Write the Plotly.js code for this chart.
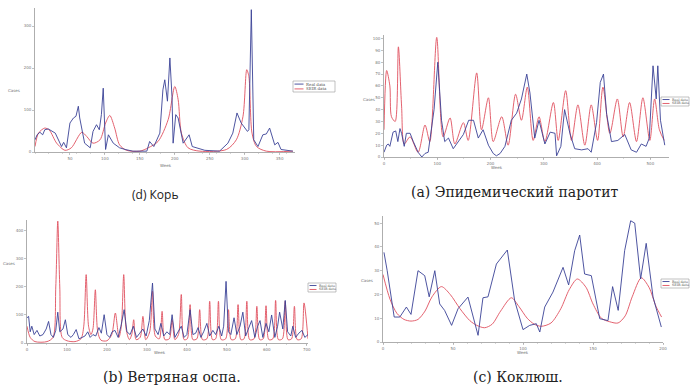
<!DOCTYPE html>
<html><head><meta charset="utf-8">
<script src="https://cdn.plot.ly/plotly-3.0.1.min.js"></script>
<style>html,body{margin:0;padding:0;background:#fff}#c{width:690px;height:385px}</style>
</head><body><div id="c"></div><script>
// Panel (d) Корь
const dRealX = [0,3,7,11,14,19,29,38,41,45,50,55,58.6,62,64,71,79,83,88,92,95,97.6,101,105,112,121,129,140,160,164,170,178.6,183,185.7,189.5,193,196,197.6,201.4,204.8,212,220.5,225,231,243,264,276,283,289,295,304,306,309.5,313,319,326,331,335.7,339.5,343,347.6,352,369];
const dRealY = [29,41,47,41,53,55,45,13,23,10,69,81,85,109,81,21,10,49,65,53,89,152,6,41,21,10,6,2,2,25,13,45,148,172,121,224,132,21,89,81,21,41,13,10,4,2,21,45,93,69,49,53,339,29,13,41,43,57,37,17,23,6,2];
const dSeirX = [0,5,14,20.5,31,43,52,67,74,83,93,101,107,114,121,131,150,162,176,190.5,200,204.8,209.5,219,236,274,288,297.6,303,306,310.5,317,331,369];
const dSeirY = [13,45,57,52,21,4,10,47,37,21,29,69,87,57,17,4,2,10,25,77,156,125,45,10,2,6,29,85,196,180,45,13,2,2];

// Panel (a) Эпидемический паротит
const aSeirX = [0,5,11,14,21,27,33,38,49,64,77,86,99,111,124,133,149,158,174,183,196,205,221,233,247,258,269,280,291,302,318,327,341,352,364,377,389,401,411,424,438,449,461,474,486,499,508,517,526];
const aSeirY = [23,73,60,34,30,93,43,11,17,4,27,13,101,17,33,11,29,14,71,23,50,13,34,10,53,31,59,14,34,13,46,14,56,14,44,10,44,14,59,20,49,17,46,13,50,14,49,23,14];
const aRealX = [0,5,8,11,17,22,26,30,33,38,42,49,55,64,71,77,83,89,94,101,108,114,121,130,139,149,159,168,177,186,196,205,211,218,227,239,249,258,268,274,283,291,302,312,321,324,332,339,349,358,371,383,389,399,406,412,418,427,439,452,464,474,483,492,498,505,511,514,519,527];
const aRealY = [4,10,11,9,21,22,13,24,20,9,20,20,13,4,0,3,4,23,40,80,31,13,16,7,13,19,31,31,16,23,10,3,1,3,9,31,37,49,70,54,16,31,11,21,20,1,9,40,20,7,6,7,4,29,63,70,36,13,14,19,6,4,11,9,16,77,49,77,31,10];

// Panel (b) Ветряная оспа
const bSeirX = [0,8,20,50,65,72,77,82,88,100,120,135,142,148,154,160,165,171,177,185,200,212,221,230,236,242,248,256,262,267,273,283,290,297,307,314,321,331,338,345,356,363,370,379,386,393,401,408,415,425,432,439,450,457,464,472,479,486,497,504,511,521,528,535,543,550,557,568,575,582,591,598,605,615,622,629,639,646,653,662,669,676,686,693,703];
const bSeirY = [60,20,5,5,20,200,435,200,20,8,5,15,60,244,60,30,50,190,40,10,8,30,107,20,60,244,50,12,30,83,12,20,95,12,40,185,25,15,113,12,15,83,12,30,173,12,15,137,12,15,119,12,15,149,12,15,149,12,15,119,12,15,137,12,15,149,12,15,131,12,15,133,12,15,152,12,15,149,12,15,131,12,15,143,15];
const bRealX = [0,4,8,12,18,25,32,40,48,54,60,66,72,77,82,90,96,102,110,116,123,130,138,145,152,158,165,172,180,186,193,200,207,213,220,228,235,243,250,258,266,274,282,290,298,306,314,320,328,335,342,350,357,363,370,378,386,393,400,408,415,422,428,435,442,450,457,465,472,480,487,492,498,504,510,518,525,533,540,547,555,562,570,577,583,590,598,605,612,620,627,632,640,646,652,660,665,672,680,688,695,703];
const bRealY = [90,95,40,60,30,45,25,30,50,77,30,20,45,110,40,50,83,30,20,30,48,15,20,25,40,20,30,25,55,35,101,30,20,40,45,20,60,119,40,30,60,20,35,50,25,80,214,50,30,70,25,40,30,101,20,40,60,20,30,119,30,35,55,20,40,70,25,45,30,60,25,60,220,40,30,90,30,60,110,25,55,80,20,60,80,20,70,40,100,20,60,110,50,152,40,25,60,20,35,45,20,30];

// Panel (c) Коклюш
const cRealX = [0.7,3,8,12,16.7,20,25,29.8,33,37,40.5,44,49,53.6,60.7,67.9,71.4,75,81,88.8,94,100,104.8,109.5,112,115.5,121.4,128.6,132.6,136.9,140.5,144,148.8,154.8,160.7,164,168,172.6,176.9,179.8,184,188,192.9,198.8];
const cRealY = [37.7,30,10.5,10.5,14.7,11.6,30,27.9,19,30,16,13.3,7,14,18.9,2.8,18.6,19,32.8,38.7,17.5,5.2,7,7.7,4.2,14.7,21,31.4,24,38.4,45,28.6,27.9,9.8,9,23.3,13.3,38.4,51,50,26.5,41.5,18.9,6.3];
const cSeirX = [0,5,10,15,20,25,30,35,41.7,48,55,62,67,72.6,78,84,91.7,97,103,108,113,120,127,133,138.8,145,150,156,162,167.9,173,178,184.5,190,195,199];
const cSeirY = [28.4,18,12,9.5,8.8,9.5,13,19,23.3,20,14,9,7,6,7.5,13,18.6,15,10,7.5,6.6,8,14,22,26.5,23,16,10,8.5,8,11,19,27,23,15,10.5];

const names = ["Real data", "SEIR data"];
const blue = "#3a4296", red = "#e0505f";

function tr(x, y, ax, i, color, shape) {
  return {x: x, y: y, xaxis: "x" + ax, yaxis: "y" + ax, type: "scatter", mode: "lines",
    line: {color: color, width: 0.9, shape: shape, smoothing: 0.8},
    name: names[i], showlegend: false, hoverinfo: "none"};
}
const data = [
  tr(dSeirX, dSeirY, "", 1, red, "spline"),
  tr(dRealX, dRealY, "", 0, blue, "linear"),
  tr(aSeirX, aSeirY, "2", 1, red, "spline"),
  tr(aRealX, aRealY, "2", 0, blue, "linear"),
  tr(bSeirX, bSeirY, "3", 1, red, "spline"),
  tr(bRealX, bRealY, "3", 0, blue, "linear"),
  tr(cSeirX, cSeirY, "4", 1, red, "spline"),
  tr(cRealX, cRealY, "4", 0, blue, "linear")
];
data[0].xaxis = data[1].xaxis = "x"; data[0].yaxis = data[1].yaxis = "y";

const W = 690, H = 385;
const px = v => v / W, py = v => 1 - v / H;
const tf = {size: 4, color: "#777", family: "DejaVu Sans"};
function xax(dom, range, tv, anchor) {
  return {domain: dom, range: range, anchor: anchor, tickvals: tv, ticktext: tv.map(String),
    showgrid: false, zeroline: false, showline: true, linecolor: "#9a9a9a", linewidth: 0.8,
    ticks: "outside", ticklen: 2, tickwidth: 0.6, tickcolor: "#9a9a9a",
    minor: {ticks: "outside", ticklen: 1, nticks: 5, tickcolor: "#bbb"},
    tickfont: tf, fixedrange: true};
}
function yax(dom, range, tv, anchor) {
  return {domain: dom, range: range, anchor: anchor, tickvals: tv, ticktext: tv.map(String),
    showgrid: false, zeroline: false, showline: true, linecolor: "#9a9a9a", linewidth: 0.8,
    ticks: "outside", ticklen: 2, tickwidth: 0.6, tickcolor: "#9a9a9a",
    tickfont: tf, fixedrange: true};
}
const small = {size: 4, color: "#777", family: "DejaVu Sans"};
function ann(text, x, y, font, xa) {
  return {text: text, x: px(x), y: py(y), xref: "paper", yref: "paper", showarrow: false,
    xanchor: xa || "center", yanchor: "middle", font: font};
}
const shapes = [], anns = [];
// hand-made compact legends (Plotly legends cannot be made this small)
function legendBox(x0, y0, w, h, fs, lw) {
  shapes.push({type: "rect", xref: "paper", yref: "paper", x0: px(x0), x1: px(x0 + w), y0: py(y0 + h), y1: py(y0),
    line: {color: "#999", width: 0.6}, fillcolor: "#fff"});
  const cols = [blue, red];
  for (let i = 0; i < 2; i++) {
    const yy = y0 + h * (0.28 + 0.44 * i);
    shapes.push({type: "line", xref: "paper", yref: "paper", x0: px(x0 + 1.5), x1: px(x0 + 1.5 + lw), y0: py(yy), y1: py(yy),
      line: {color: cols[i], width: 0.9}});
    anns.push(ann(names[i], x0 + 2 + lw, yy, {size: fs, color: "#555", family: "DejaVu Serif"}, "left"));
  }
}
legendBox(293, 81, 42, 11, 4, 9);
legendBox(661, 97, 28, 9, 3.3, 7);
legendBox(308, 283, 28, 9, 3.3, 7);
legendBox(661, 279, 28, 9, 3.3, 7);

const serif = {size: 14, color: "#222", family: "DejaVu Serif"};
anns.push(
  ann("Cases", 14, 91, small), ann("Week", 166, 165, small),
  ann("Cases", 369, 100, small), ann("Week", 497, 167, small),
  ann("Cases", 9, 263, small), ann("Week", 160, 352, small),
  ann("Cases", 367, 280, small), ann("Week", 523, 352, small),
  ann("(d) Корь", 155, 195, {size: 12, color: "#222", family: "Open Sans"}),
  ann("(a) Эпидемический паротит", 515, 192, serif),
  ann("(b) Ветряная оспа.", 172, 377, serif),
  ann("(c) Коклюш.", 518, 377, serif)
);
const layout = {
  width: W, height: H, margin: {l: 0, r: 0, t: 0, b: 0}, paper_bgcolor: "#fff", plot_bgcolor: "#fff",
  showlegend: false,
  xaxis: xax([px(35), px(295)], [0, 372], [50,100,150,200,250,300,350], "y"),
  yaxis: yax([py(152), py(8)], [0, 343], [0,100,200,300], "x"),
  xaxis2: xax([px(384), px(669)], [0, 535], [0,100,200,300,400,500], "y2"),
  yaxis2: yax([py(157), py(35)], [0, 103], [0,10,20,30,40,50,60,70,80,90,100], "x2"),
  xaxis3: xax([px(27), px(308)], [0, 703], [0,100,200,300,400,500,600,700], "y3"),
  yaxis3: yax([py(343), py(220)], [0, 439], [0,100,200,300,400], "x3"),
  xaxis4: xax([px(383), px(663)], [0, 200], [0,50,100,150,200], "y4"),
  yaxis4: yax([py(342), py(216)], [0, 53], [0,10,20,30,40,50], "x4"),
  shapes: shapes,
  annotations: anns
};
Plotly.newPlot("c", data, layout, {staticPlot: true, displayModeBar: false});
</script></body></html>
